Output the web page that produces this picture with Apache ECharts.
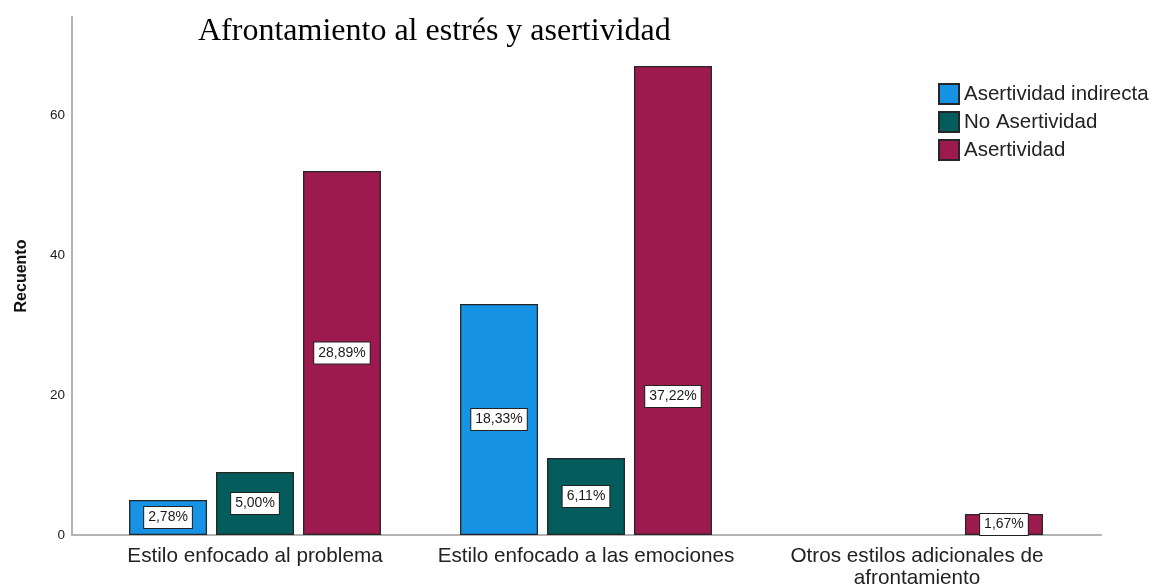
<!DOCTYPE html>
<html>
<head>
<meta charset="utf-8">
<title>Afrontamiento al estrés y asertividad</title>
<script src="https://cdn.jsdelivr.net/npm/echarts@6/dist/echarts.min.js"></script>
<style>
  html, body { margin: 0; padding: 0; background: #fff; }
  #chart { width: 1157px; height: 585px; }
</style>
</head>
<body>
<div id="chart"></div>
<script>
// Counts per coping style and assertiveness group
const categories = [
  'Estilo enfocado al problema',
  'Estilo enfocado a las emociones',
  'Otros estilos adicionales de\nafrontamiento'
];
const seriesNames = ['Asertividad indirecta', 'No Asertividad', 'Asertividad'];
const indirecta = [5, 33, null];
const noAsertividad = [9, 11, null];
const asertividad = [52, 67, 3];
const yMax = 74;
const yInterval = 20;

const colors = ['#1793e6', '#045c5c', '#9d1a4f'];
const sans = '"Liberation Sans", Arial, sans-serif';

// Percentages are relative to the grand total of all counts
const total = [...indirecta, ...noAsertividad, ...asertividad]
  .reduce((s, v) => s + (v || 0), 0);
const pct = v => (v / total * 100).toFixed(2).replace('.', ',') + '%';

const chart = echarts.init(document.getElementById('chart'), null, { renderer: 'canvas' });

function barSeries(name, data, color, labelShift) {
  return {
    name: name,
    type: 'bar',
    xAxisIndex: 1,
    yAxisIndex: 1,
    // the tallest bar's label sits lower, below the legend block
    data: data.map((v, i) => labelShift && labelShift[i]
      ? { value: v, label: { offset: [0, labelShift[i]] } }
      : v),
    barWidth: 78,
    barGap: '11.5%',
    itemStyle: { color: color, borderColor: '#262626', borderWidth: 1.3 },
    label: {
      show: true,
      position: 'inside',
      formatter: p => pct(p.value),
      color: '#1a1a1a',
      fontFamily: sans,
      fontSize: 14,
      backgroundColor: '#fff',
      borderColor: '#222',
      borderWidth: 1,
      padding: [4, 4, 3, 4]
    },
    emphasis: { disabled: true }
  };
}

chart.setOption({
  animation: false,
  backgroundColor: '#fff',
  title: {
    text: 'Afrontamiento al estrés y asertividad',
    left: 193,
    top: 11,
    padding: 5,
    textStyle: {
      fontFamily: '"Liberation Serif", "Times New Roman", serif',
      fontWeight: 'normal',
      fontSize: 32,
      color: '#000'
    }
  },
  legend: {
    orient: 'vertical',
    left: 938,
    top: 83,
    padding: 0,
    itemWidth: 20,
    itemHeight: 20,
    itemGap: 6,
    itemTextGap: 11,
    icon: 'rect',
    data: seriesNames,
    textStyle: { fontFamily: sans, fontSize: 20.5, color: '#222' }
  },
  grid: [
    // frame grid: carries the visible axis lines and the value scale
    { left: 72, right: 56, top: 17, bottom: 50, outerBoundsMode: 'none' },
    // bar grid: inset so the groups sit with SPSS-like margins
    { left: 89.5, width: 993, top: 17, bottom: 50, outerBoundsMode: 'none' }
  ],
  xAxis: [
    {
      gridIndex: 0,
      type: 'value',
      min: 0,
      max: 1,
      axisLine: { show: true, onZero: false, lineStyle: { color: '#b3b3b3', width: 2 } },
      axisTick: { show: false },
      axisLabel: { show: false },
      splitLine: { show: false }
    },
    {
      gridIndex: 1,
      type: 'category',
      data: categories,
      axisLine: { show: false },
      axisTick: { show: false },
      axisLabel: {
        margin: 10,
        fontFamily: sans,
        fontSize: 20.7,
        lineHeight: 22,
        color: '#222',
        interval: 0
      }
    }
  ],
  yAxis: [
    {
      gridIndex: 0,
      type: 'value',
      min: 0,
      max: yMax,
      interval: yInterval,
      name: 'Recuento',
      nameLocation: 'middle',
      nameGap: 42,
      nameTextStyle: { fontFamily: sans, fontSize: 16, fontWeight: 'bold', color: '#111' },
      axisLine: { show: true, lineStyle: { color: '#b3b3b3', width: 2 } },
      axisTick: { show: false },
      axisLabel: {
        showMaxLabel: false,
        margin: 7,
        fontFamily: sans,
        fontSize: 13.5,
        color: '#222'
      },
      splitLine: { show: false }
    },
    {
      gridIndex: 1,
      type: 'value',
      min: 0,
      max: yMax,
      show: false,
      splitLine: { show: false }
    }
  ],
  series: [
    barSeries(seriesNames[0], indirecta, colors[0]),
    barSeries(seriesNames[1], noAsertividad, colors[1]),
    barSeries(seriesNames[2], asertividad, colors[2], [0, 96, 0])
  ]
});
</script>
</body>
</html>
